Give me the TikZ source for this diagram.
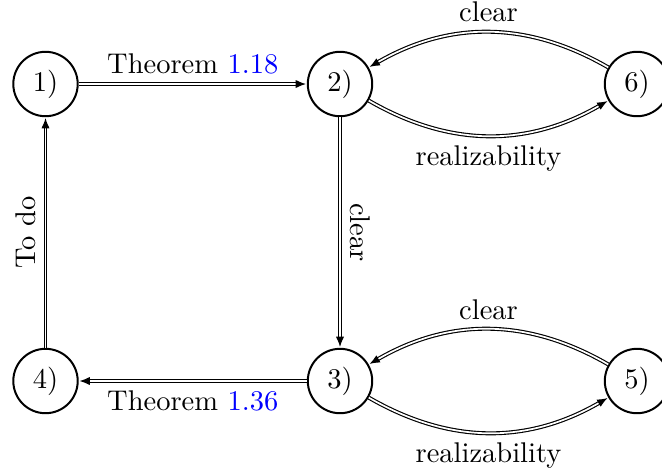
\documentclass[tikz,border=0pt]{standalone}
\usetikzlibrary{arrows.meta}
\begin{document}
\begin{tikzpicture}[x=0.3509pt,y=-0.3509pt,
  state/.style={draw,circle,line width=0.7pt,minimum size=22.6pt,inner sep=0pt},
  imp/.style={double,-{Latex[length=3.6pt,width=2.9pt]},shorten >=0.3pt}]
\useasboundingbox (0,0) rectangle (662,474);
\node[state] (n1) at (45.5,84) {1)};
\node[state] (n2) at (340,84) {2)};
\node[state] (n6) at (637,84) {6)};
\node[state] (n4) at (45.5,381) {4)};
\node[state] (n3) at (340,381) {3)};
\node[state] (n5) at (637,381) {5)};
\draw[imp] (n1) -- node[above] {Theorem \textcolor{blue}{1.18}} (n2);
\draw[imp] (n2) -- node[above,sloped] {clear} (n3);
\draw[imp] (n3) -- node[below] {Theorem \textcolor{blue}{1.36}} (n4);
\draw[imp] (n4) -- node[above,sloped] {To do} (n1);
\draw[imp] (n2) to[bend right=30] node[below] {realizability} (n6);
\draw[imp] (n6) to[bend right=30] node[above] {clear} (n2);
\draw[imp] (n3) to[bend right=30] node[below] {realizability} (n5);
\draw[imp] (n5) to[bend right=30] node[above] {clear} (n3);
\end{tikzpicture}
\end{document}
